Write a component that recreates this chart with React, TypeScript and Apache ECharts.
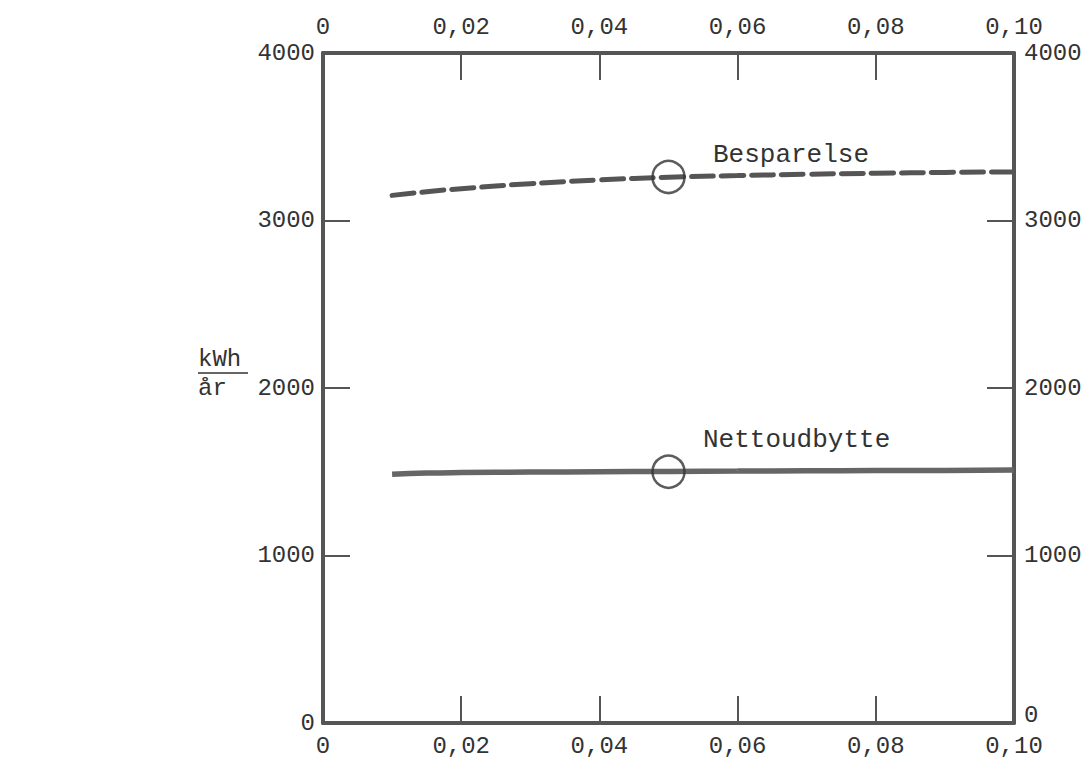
import React, { useEffect, useRef } from "react";
import * as echarts from "echarts";

const xValues = [0.01, 0.015, 0.02, 0.03, 0.04, 0.05, 0.06, 0.07, 0.08, 0.09, 0.1];
const besparelse = [3150, 3172, 3190, 3220, 3242, 3258, 3268, 3276, 3282, 3287, 3290];
const nettoudbytte = [1485, 1492, 1495, 1498, 1500, 1502, 1504, 1506, 1507, 1508, 1510];
const markerBesparelse = [[0.05, 3260]];
const markerNetto = [[0.05, 1500]];
const xTicks = [0, 0.02, 0.04, 0.06, 0.08, 0.1];
const yTicks = [0, 1000, 2000, 3000, 4000];

const FONT = "'Liberation Mono', 'DejaVu Sans Mono', monospace";
const AXIS_COLOR = "#555";
const TEXT_COLOR = "#333";

const fmtX = (v: number) => {
  if (v === 0) return "0";
  return v.toFixed(2).replace(".", ",");
};
const fmtY = (v: number) => String(Math.round(v));
const fmtYRight = (v: number) => (v === 0 ? "{up|0}" : String(Math.round(v)));

export default function App() {
  const ref = useRef<HTMLDivElement>(null);
  useEffect(() => {
    if (!ref.current) return;
    const chart = echarts.init(ref.current, undefined, { renderer: "svg" });
    const axisLine = { show: true, onZero: false, lineStyle: { color: AXIS_COLOR, width: 4 } };
    const axisTick = { show: true, inside: true, length: 27, lineStyle: { color: AXIS_COLOR, width: 2 } };
    const labelStyle = { color: TEXT_COLOR, fontFamily: FONT, fontSize: 24 };
    const xAxisBase = {
      type: "value",
      min: 0,
      max: 0.1,
      interval: 0.02,
      axisLine,
      axisTick,
      splitLine: { show: false },
    };
    const yAxisBase = {
      type: "value",
      min: 0,
      max: 4000,
      interval: 1000,
      axisLine,
      axisTick,
      splitLine: { show: false },
    };
    chart.setOption({
      animation: false,
      backgroundColor: "#fff",
      grid: { left: 323, right: 77, top: 53, bottom: 37 },
      xAxis: [
        {
          ...xAxisBase,
          position: "bottom",
          axisLabel: { ...labelStyle, margin: 11, formatter: fmtX, customValues: xTicks },
        },
        {
          ...xAxisBase,
          position: "top",
          axisLabel: { ...labelStyle, margin: 14, formatter: fmtX, customValues: xTicks },
        },
      ],
      yAxis: [
        {
          ...yAxisBase,
          position: "left",
          axisLabel: { ...labelStyle, margin: 8, formatter: fmtY, customValues: yTicks },
        },
        {
          ...yAxisBase,
          position: "right",
          axisLabel: {
            ...labelStyle,
            margin: 10,
            formatter: fmtYRight,
            customValues: yTicks,
            rich: {
              up: {
                color: TEXT_COLOR,
                fontFamily: FONT,
                fontSize: 24,
                padding: [0, 0, 16, 0],
              },
            },
          },
        },
      ],
      series: [
        {
          name: "Besparelse",
          type: "line",
          smooth: true,
          showSymbol: false,
          data: xValues.map((x, i) => [x, besparelse[i]]),
          lineStyle: { color: "#555", width: 5, type: [22, 8], cap: "round" },
        },
        {
          name: "Nettoudbytte",
          type: "line",
          smooth: true,
          showSymbol: false,
          data: xValues.map((x, i) => [x, nettoudbytte[i]]),
          lineStyle: { color: "#666", width: 5.5 },
        },
        {
          type: "scatter",
          symbol: "circle",
          symbolSize: 32,
          data: [...markerBesparelse, ...markerNetto],
          itemStyle: { color: "rgba(0,0,0,0)", borderColor: "#333", borderWidth: 2.5 },
          z: 5,
        },
      ],
      graphic: [
        {
          type: "text",
          left: 713,
          top: 142,
          style: { text: "Besparelse", fontFamily: FONT, fontSize: 26, fill: TEXT_COLOR },
        },
        {
          type: "text",
          left: 703,
          top: 427,
          style: { text: "Nettoudbytte", fontFamily: FONT, fontSize: 26, fill: TEXT_COLOR },
        },
        {
          type: "text",
          left: 198,
          top: 347,
          style: { text: "kWh", fontFamily: FONT, fontSize: 24, fill: TEXT_COLOR },
        },
        {
          type: "line",
          shape: { x1: 198, y1: 373, x2: 248, y2: 373 },
          style: { stroke: TEXT_COLOR, lineWidth: 1.5 },
        },
        {
          type: "text",
          left: 198,
          top: 376,
          style: { text: "år", fontFamily: FONT, fontSize: 24, fill: TEXT_COLOR },
        },
      ],
    });
    return () => chart.dispose();
  }, []);
  return (
    <div
      ref={ref}
      style={{ position: "fixed", left: 0, top: 0, width: 1091, height: 760, background: "#fff" }}
    />
  );
}
